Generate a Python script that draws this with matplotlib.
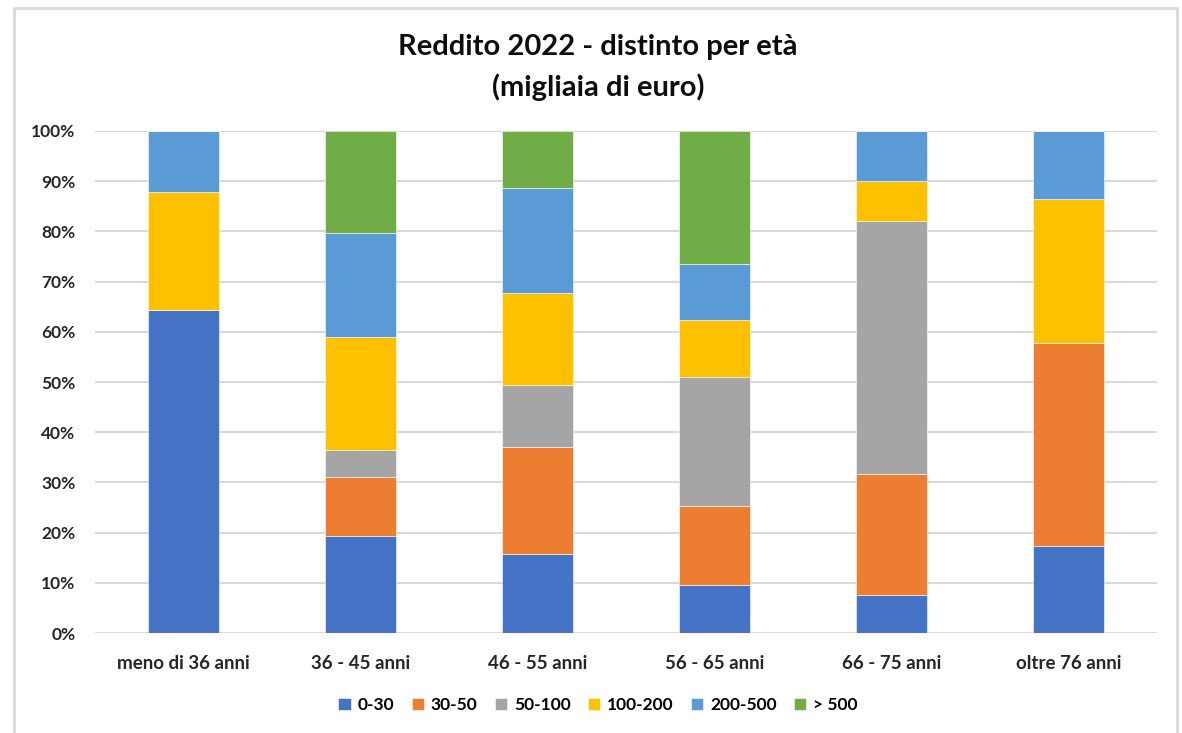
import matplotlib.pyplot as plt
import numpy as np
from matplotlib.patches import Rectangle
from matplotlib.ticker import PercentFormatter

plt.rcParams['font.family'] = ['Lato', 'DejaVu Sans']
plt.rcParams['font.weight'] = 'bold'

categories = ['meno di 36 anni', '36 - 45 anni', '46 - 55 anni',
              '56 - 65 anni', '66 - 75 anni', 'oltre 76 anni']
series_names = ['0-30', '30-50', '50-100', '100-200', '200-500', '> 500']

s_0_30 = [64.3, 19.3, 15.7, 9.6, 7.6, 17.3]
s_30_50 = [0.0, 11.8, 21.4, 15.7, 24.1, 40.5]
s_50_100 = [0.0, 5.4, 12.3, 25.7, 50.4, 0.0]
s_100_200 = [23.5, 22.5, 18.3, 11.4, 7.9, 28.7]
s_200_500 = [12.2, 20.7, 20.9, 11.1, 10.0, 13.5]
s_500 = [0.0, 20.3, 11.4, 26.5, 0.0, 0.0]

colors = ['#4472C4', '#ED7D31', '#A5A5A5', '#FFC000', '#5B9BD5', '#70AD47']
series = [s_0_30, s_30_50, s_50_100, s_100_200, s_200_500, s_500]

fig = plt.figure(figsize=(11.82, 7.33), dpi=100)
ax = fig.add_axes([0.0804, 0.1364, 0.8986, 0.6849])

x = np.arange(len(categories))
bottom = np.zeros(len(categories))
for name, vals, c in zip(series_names, series, colors):
    vals = np.array(vals)
    ax.bar(x, vals, 0.4, bottom=bottom, color=c, label=name,
           edgecolor='white', linewidth=0.4, zorder=3)
    bottom += vals

ax.set_xlim(-0.5, len(categories) - 0.5)
ax.set_ylim(0, 100)
ax.set_yticks(np.arange(0, 101, 10))
ax.yaxis.set_major_formatter(PercentFormatter(decimals=0))
ax.set_xticks(x)
ax.set_xticklabels(categories)
ax.tick_params(axis='both', length=0, colors='#262626')
ax.tick_params(axis='x', pad=16, labelsize=13.5)
ax.tick_params(axis='y', pad=14, labelsize=12.5)
ax.grid(axis='y', color='#d9d9d9', linewidth=1.5, zorder=0)
for s in ax.spines.values():
    s.set_visible(False)

fig.text(0.506, 0.936, 'Reddito 2022 - distinto per età', ha='center',
         va='center', fontsize=21, fontweight='bold', color='#0d0d0d')
fig.text(0.506, 0.881, '(migliaia di euro)', ha='center',
         va='center', fontsize=21, fontweight='bold', color='#0d0d0d')

fig.legend(loc='center', bbox_to_anchor=(0.506, 0.038), ncol=6,
           frameon=False, fontsize=12.5, handlelength=0.7, handleheight=0.7,
           handletextpad=0.4, columnspacing=1.0)

fig.patches.append(Rectangle((0.012, -0.01), 0.984, 0.999,
                             transform=fig.transFigure, fill=False,
                             edgecolor='#d9d9d9', linewidth=2))

fig.savefig('out.png', dpi=100)
